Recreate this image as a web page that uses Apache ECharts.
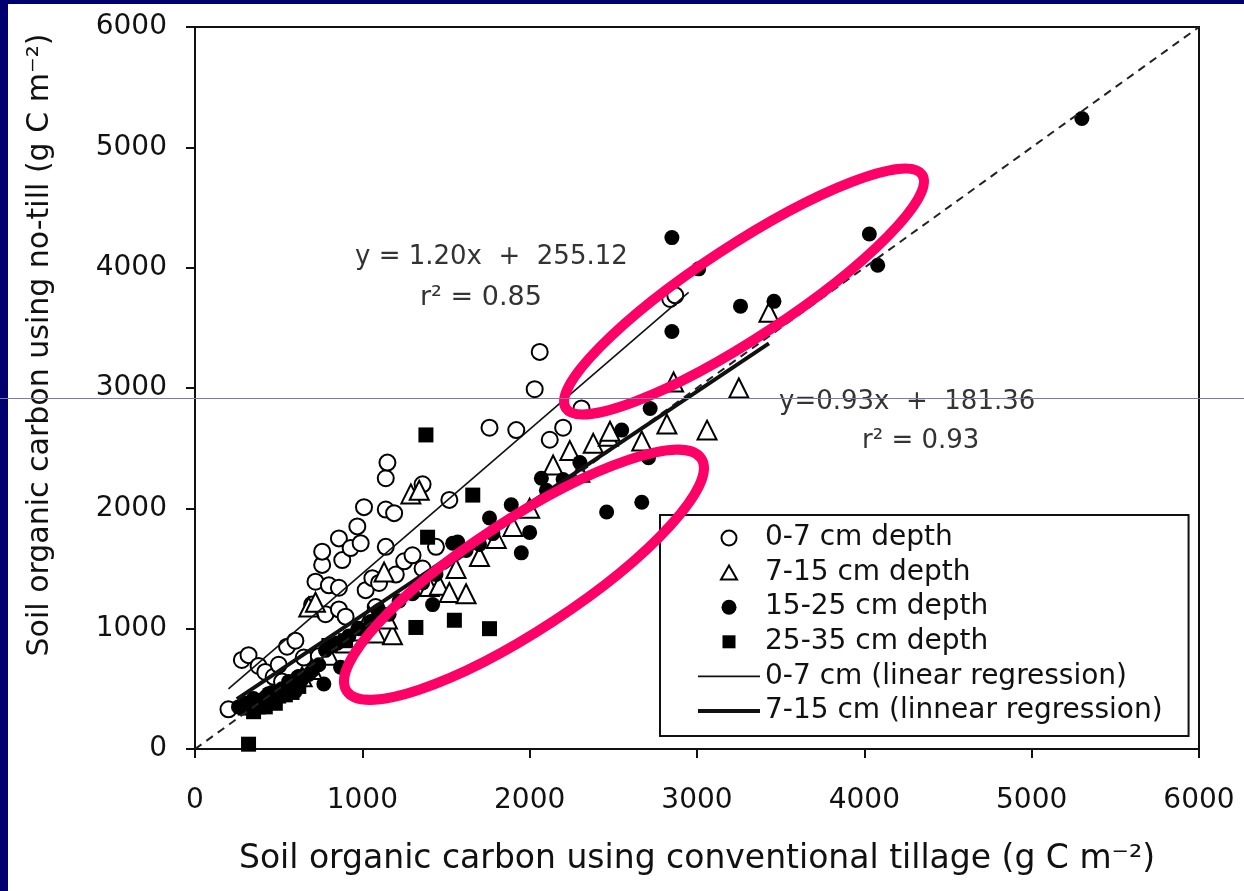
<!DOCTYPE html>
<html>
<head>
<meta charset="utf-8">
<script src="https://cdn.jsdelivr.net/npm/echarts@6/dist/echarts.min.js"></script>
<style>
* { margin: 0; padding: 0; }
body { background: #fff; }
#main { width: 1244px; height: 891px; }
</style>
</head>
<body>
<div id="main"></div>
<script>
// values, [conventional tillage, no-till] in g C m-2
var depth0to7 = [
  [200, 330], [280, 740], [320, 780], [380, 690], [420, 640], [470, 600], [520, 560],
  [550, 850], [620, 590], [650, 760], [500, 700], [600, 900], [700, 1200], [720, 1390],
  [740, 770], [760, 1530], [760, 1640], [780, 1120], [800, 1360], [860, 1160], [860, 1340],
  [860, 1750], [880, 1570], [900, 1100], [930, 1670], [970, 1850], [980, 990], [990, 1710],
  [1010, 2010], [1020, 1320], [1060, 1420], [1080, 1180], [1100, 1380], [1140, 1680],
  [1140, 1990], [1140, 2250], [1150, 2380], [1190, 1960], [1200, 1450], [1250, 1560],
  [1300, 1610], [1360, 1500], [1360, 2200], [1440, 1680], [1520, 2070], [1760, 2670],
  [1920, 2650], [2030, 2990], [2060, 3300], [2120, 2570], [2200, 2670], [2310, 2830],
  [2840, 3740], [2870, 3770]
];
var depth7to15 = [
  [350, 380], [450, 420], [560, 520], [640, 600], [680, 1180], [720, 1220], [700, 660],
  [800, 780], [900, 880], [960, 980], [1080, 965], [1180, 950], [1040, 1100], [1150, 1080],
  [1130, 1470], [1290, 2120], [1340, 2150], [1400, 1350], [1460, 1360], [1520, 1300],
  [1620, 1290], [1560, 1500], [1700, 1600], [1800, 1750], [1900, 1850], [2000, 2000],
  [2140, 2360], [2240, 2480], [2300, 2300], [2380, 2540], [2470, 2600], [2480, 2640],
  [2670, 2560], [2820, 2700], [2860, 3050], [3060, 2650], [3250, 3000], [3430, 3630]
];
var depth15to25 = [
  [260, 350], [300, 380], [330, 380], [350, 420], [380, 400], [400, 380], [420, 430],
  [440, 460], [460, 470], [480, 430], [520, 500], [520, 480], [560, 560], [580, 540],
  [600, 480], [620, 600], [640, 580], [680, 620], [700, 650], [740, 700], [770, 540],
  [780, 820], [870, 680], [850, 880], [920, 940], [980, 1000], [1050, 1060], [1100, 1150],
  [1160, 1120], [1220, 1230], [1300, 1290], [1360, 1380], [1420, 1200], [1440, 1450],
  [1540, 1710], [1570, 1720], [1620, 1650], [1700, 1700], [1760, 1920], [1780, 1790],
  [1890, 2030], [1950, 1630], [2000, 1800], [2070, 2250], [2100, 2150], [2200, 2240],
  [2300, 2380], [2460, 1970], [2550, 2650], [2670, 2050], [2710, 2420], [2720, 2830],
  [2850, 3470], [2850, 4250], [3010, 3990], [3260, 3680], [3460, 3720], [4030, 4280],
  [4080, 4020], [5300, 5240]
];
var depth25to35 = [
  [320, 40], [300, 340], [340, 360], [350, 310], [380, 350], [420, 390], [420, 350],
  [460, 410], [480, 380], [500, 440], [540, 450], [560, 500], [580, 470], [620, 520],
  [800, 860], [900, 900], [1320, 1010], [1380, 2610], [1390, 1760], [1550, 1070],
  [1660, 2110], [1760, 1000]
];
var reg0to7 = [[200, 500], [2950, 3795]];
var reg7to15 = [[250, 414], [3430, 3371]];
var oneToOne = [[0, 0], [6000, 6000]];
var axisTicks = { min: 0, max: 6000, interval: 1000 };
var legendNames = ['0-7 cm depth', '7-15 cm depth', '15-25 cm depth', '25-35 cm depth',
  '0-7 cm (linear regression)', '7-15 cm (linnear regression)'];
// pink ellipses, centres in data units
var ellipseCentres = [[3281, 3802], [1966, 1448]];

var font = 'DejaVu Sans';
var ink = '#111';
var chart = echarts.init(document.getElementById('main'));

// legend icons drawn inside a 62x15 box so they do not get stretched
var box = 'M0,0 M62,15 ';
var legendIcons = [
  null,
  { icon: 'path://' + box + 'M23,14.5 L31,0.5 L39,14.5 Z', itemStyle: { color: '#fff', borderColor: '#000', borderWidth: 2, opacity: 1 } },
  null,
  { icon: 'path://' + box + 'M24.5,1 L37.5,1 L37.5,14 L24.5,14 Z', itemStyle: { color: '#000', borderWidth: 0, opacity: 1 } },
  { icon: 'path://' + box + 'M0,6.7 L62,6.7 L62,8.3 L0,8.3 Z', itemStyle: { color: '#111', borderWidth: 0 } },
  { icon: 'path://' + box + 'M0,5.5 L62,5.5 L62,9.5 L0,9.5 Z', itemStyle: { color: '#111', borderWidth: 0 } }
];
var legendData = legendNames.map(function (n, i) {
  return legendIcons[i] ? Object.assign({ name: n }, legendIcons[i]) : { name: n };
});

function valueAxis(extra) {
  return Object.assign({
    type: 'value',
    min: axisTicks.min,
    max: axisTicks.max,
    interval: axisTicks.interval,
    splitLine: { show: false },
    axisLine: { lineStyle: { color: '#111', width: 2 } },
    axisTick: { inside: false, length: 9, lineStyle: { color: '#111', width: 2 } },
    nameLocation: 'middle'
  }, extra);
}

function plain(v) { return String(v); }

chart.setOption({
  backgroundColor: '#fff',
  animation: false,
  grid: {
    left: 195, right: 45, top: 27, bottom: 142,
    show: true, borderColor: '#111', borderWidth: 2
  },
  xAxis: valueAxis({
    name: 'Soil organic carbon using conventional tillage (g C m⁻²)',
    nameGap: 94,
    nameTextStyle: { fontFamily: font, fontSize: 33, color: ink },
    axisLabel: { fontFamily: font, fontSize: 28, color: ink, margin: 38, formatter: plain }
  }),
  yAxis: valueAxis({
    name: 'Soil organic carbon using no-till (g C m⁻²)',
    nameGap: 140,
    nameTextStyle: { fontFamily: font, fontSize: 30, color: ink, padding: [0, 0, 0, 86] },
    axisLabel: { fontFamily: font, fontSize: 28, color: ink, margin: 28, formatter: plain }
  }),
  legend: {
    data: legendData,
    orient: 'vertical',
    left: 660, top: 515,
    padding: [8, 26, 10, 37],
    itemWidth: 62, itemHeight: 15,
    itemGap: 4.6,
    borderColor: '#111', borderWidth: 2,
    textStyle: { fontFamily: font, fontSize: 28, color: ink, lineHeight: 30 }
  },
  series: [
    {
      type: 'line', data: oneToOne, symbol: 'none', silent: true,
      lineStyle: { color: '#222', width: 2, type: [8, 6] }
    },
    {
      name: legendNames[0], type: 'scatter', data: depth0to7, symbol: 'circle', symbolSize: 16,
      itemStyle: { color: '#fff', borderColor: '#000', borderWidth: 2, opacity: 1 }
    },
    {
      name: legendNames[1], type: 'scatter', data: depth7to15, symbol: 'triangle', symbolSize: 19,
      itemStyle: { color: '#fff', borderColor: '#000', borderWidth: 2, opacity: 1 }
    },
    {
      name: legendNames[2], type: 'scatter', data: depth15to25, symbol: 'circle', symbolSize: 15,
      itemStyle: { color: '#000', opacity: 1 }
    },
    {
      name: legendNames[3], type: 'scatter', data: depth25to35, symbol: 'rect', symbolSize: 15,
      itemStyle: { color: '#000', opacity: 1 }
    },
    {
      name: legendNames[4], type: 'line', data: reg0to7, symbol: 'none',
      itemStyle: { color: '#111' },
      lineStyle: { color: '#111', width: 1.6 }
    },
    {
      name: legendNames[5], type: 'line', data: reg7to15, symbol: 'none',
      itemStyle: { color: '#111' },
      lineStyle: { color: '#111', width: 4 }
    }
  ]
});

// equations, ellipses, the page border and the scan line
var eqFont = '26px DejaVu Sans';
var graphics = [
  { type: 'rect', shape: { x: 0, y: 0, width: 8, height: 891 }, style: { fill: '#00006e' }, z: 100 },
  { type: 'rect', shape: { x: 0, y: 0, width: 1244, height: 4 }, style: { fill: '#00006e' }, z: 100 },
  { type: 'text', x: 355, y: 244, style: { text: 'y = 1.20x  +  255.12', font: eqFont, fill: '#333' }, z: 50 },
  { type: 'text', x: 420, y: 284, style: { text: 'r² = 0.85', font: '27px DejaVu Sans', fill: '#333' }, z: 50 },
  { type: 'text', x: 779, y: 389, style: { text: 'y=0.93x  +  181.36', font: eqFont, fill: '#333' }, z: 50 },
  { type: 'text', x: 862, y: 428, style: { text: 'r² = 0.93', font: eqFont, fill: '#333' }, z: 50 }
];
var sizes = [[213, 46], [212, 55]];
ellipseCentres.forEach(function (c, i) {
  var p = chart.convertToPixel({ gridIndex: 0 }, c);
  graphics.push({
    type: 'ellipse', x: p[0], y: p[1], rotation: 0.58,
    shape: { cx: 0, cy: 0, rx: sizes[i][0], ry: sizes[i][1] },
    style: { fill: 'none', stroke: '#ff0066', lineWidth: 10 }, z: 60
  });
});
graphics.push({
  type: 'line', shape: { x1: 0, y1: 398.5, x2: 1244, y2: 398.5 },
  style: { stroke: '#7a7aa8', lineWidth: 1 }, z: 120
});
chart.setOption({ graphic: graphics });
</script>
</body>
</html>
